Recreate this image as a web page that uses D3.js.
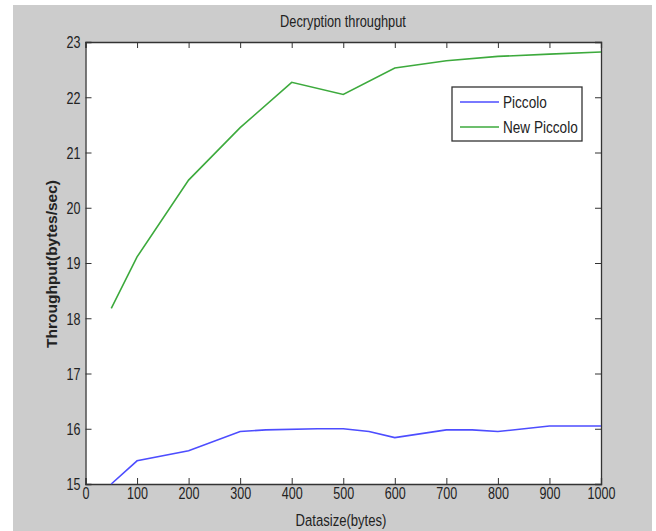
<!DOCTYPE html>
<html>
<head>
<meta charset="utf-8">
<script src="https://cdn.jsdelivr.net/npm/d3@7"></script>
<style>
body { margin:0; background:#fff; }
text { font-family: "Liberation Sans Narrow", "Arial Narrow", "Liberation Sans", sans-serif; fill:#222; }
</style>
</head>
<body>
<div id="container"></div>
<script>
// data
var sizes = [50, 100, 200, 300, 350, 450, 500, 550, 600, 700, 750, 800, 900, 1000];
var piccolo = [15.0, 15.42, 15.6, 15.95, 15.98, 16.0, 16.0, 15.95, 15.84, 15.98, 15.98, 15.95, 16.05, 16.05];
var newSizes = [50, 100, 200, 300, 400, 500, 600, 700, 800, 900, 1000];
var newPiccolo = [18.18, 19.11, 20.5, 21.45, 22.27, 22.05, 22.53, 22.66, 22.74, 22.78, 22.82];
var xTicks = [0,100,200,300,400,500,600,700,800,900,1000];
var yTicks = [15,16,17,18,19,20,21,22,23];
var names = ["Piccolo", "New Piccolo"];
var colors = ["#4d4dff", "#3daa3d"];

var W = 656, H = 531;
var m = [42, 55, 47, 85.5]; //top right bottom left
var narrow = 0.74;
var svg = d3.select("#container").append("svg").attr("width",W).attr("height",H);

svg.append("rect").attr("x",13).attr("y",5).attr("width",639).attr("height",526).attr("fill","#cccccc");

var x = d3.scaleLinear().domain([0,1000]).range([m[3], W-m[1]]);
var y = d3.scaleLinear().domain([15,23]).range([H-m[2], m[0]]);

svg.append("rect")
	.attr("x",x(0)).attr("y",y(23))
	.attr("width",x(1000)-x(0)).attr("height",y(15)-y(23))
	.attr("fill","white");

// axes, matlab style ticks inside on all four sides
var axB = d3.axisBottom(x).tickValues(xTicks).tickSize(-6).tickPadding(0).tickFormat(d3.format("d"));
var axT = d3.axisTop(x).tickValues(xTicks).tickSize(-6).tickFormat("");
var axL = d3.axisLeft(y).tickValues(yTicks).tickSize(-6).tickPadding(0).tickFormat(d3.format("d"));
var axR = d3.axisRight(y).tickValues(yTicks).tickSize(-6).tickFormat("");

var gB = svg.append("g").attr("transform","translate(0,"+y(15)+")").call(axB);
var gT = svg.append("g").attr("transform","translate(0,"+y(23)+")").call(axT);
var gL = svg.append("g").attr("transform","translate("+x(0)+",0)").call(axL);
var gR = svg.append("g").attr("transform","translate("+x(1000)+",0)").call(axR);
[gB,gT,gL,gR].forEach(function(g){
	g.select(".domain").attr("stroke","#333").attr("stroke-width",1.3);
	g.selectAll(".tick line").attr("stroke","#333");
	g.selectAll("text").attr("font-size",17).attr("fill","#222");
});
gB.selectAll(".tick text").attr("x",0).attr("y",3).attr("dy","0.71em")
	.attr("transform","scale("+narrow+",1)");
gL.selectAll(".tick text").attr("x",-5/narrow).attr("dy","0.35em")
	.attr("transform","scale("+narrow+",1)");

var line = d3.line().x(function(d){return x(d[0]);}).y(function(d){return y(d[1]);});

svg.append("path")
	.datum(d3.zip(sizes, piccolo))
	.attr("d", line).attr("fill","none")
	.attr("stroke",colors[0]).attr("stroke-width",1.6);
svg.append("path")
	.datum(d3.zip(newSizes, newPiccolo))
	.attr("d", line).attr("fill","none")
	.attr("stroke",colors[1]).attr("stroke-width",1.6);

// titles
function label(px, py, size, s, txt){
	return svg.append("g").attr("transform","translate("+px+","+py+") scale("+s+",1)")
		.append("text").attr("text-anchor","middle").attr("font-size",size).text(txt);
}
label(343, 27, 16, 0.8, "Decryption throughput");
label(341, 526, 17, 0.77, "Datasize(bytes)");
svg.append("text").attr("transform","translate(57,264) rotate(-90)").attr("text-anchor","middle")
	.attr("font-size",15.5).attr("font-weight","bold")
	.attr("font-family","Liberation Sans, Arial, sans-serif").text("Throughput(bytes/sec)");

// legend
var leg = svg.append("g").attr("transform","translate(452,87)");
leg.append("rect").attr("width",130).attr("height",54)
	.attr("fill","white").attr("stroke","#333").attr("stroke-width",1.3);
names.forEach(function(n,i){
	leg.append("line").attr("x1",8).attr("x2",47)
		.attr("y1",15+i*25).attr("y2",15+i*25)
		.attr("stroke",colors[i]).attr("stroke-width",1.6);
	leg.append("g").attr("transform","translate(51,"+(15+i*25)+") scale(0.8,1)")
		.append("text").attr("dy","0.35em").attr("font-size",17).text(n);
});
</script>
</body>
</html>
